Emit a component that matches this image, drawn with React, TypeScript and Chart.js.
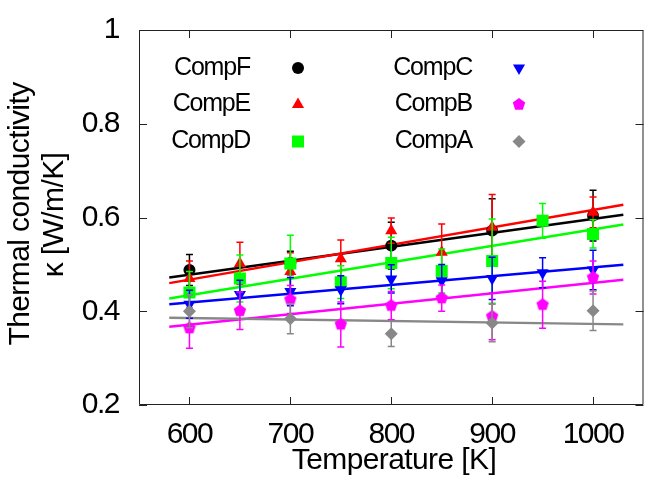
import React, { useEffect, useRef } from 'react';
import { Chart, registerables } from 'chart.js';

Chart.register(...registerables);

// ---- data ----
const xTickValues = [600, 700, 800, 900, 1000];
const yTickValues = [0.2, 0.4, 0.6, 0.8, 1];

const tempsF = [600, 700, 800, 900, 1000];
const compF = [0.488, 0.503, 0.540, 0.572, 0.604];
const errF = [0.033, 0.025, 0.05, 0.068, 0.054];

const tempsE = [600, 650, 700, 750, 800, 850, 900, 1000];
const compE = [0.470, 0.502, 0.485, 0.512, 0.572, 0.526, 0.579, 0.611];
const errE = [0.037, 0.045, 0.04, 0.04, 0.027, 0.06, 0.07, 0.033];

const tempsD = [600, 650, 700, 750, 800, 850, 900, 950, 1000];
const compD = [0.440, 0.470, 0.502, 0.462, 0.503, 0.486, 0.507, 0.593, 0.565];
const errD = [0.045, 0.05, 0.06, 0.035, 0.055, 0.047, 0.09, 0.037, 0.03];

const tempsC = [600, 650, 700, 750, 800, 850, 900, 950, 1000];
const compC = [0.415, 0.436, 0.442, 0.446, 0.469, 0.465, 0.470, 0.482, 0.488];
const errC = [0.03, 0.03, 0.03, 0.03, 0.03, 0.035, 0.045, 0.032, 0.042];

const tempsB = [600, 650, 700, 750, 800, 850, 900, 950, 1000];
const compB = [0.364, 0.401, 0.425, 0.372, 0.412, 0.428, 0.389, 0.414, 0.472];
const errB = [0.043, 0.04, 0.03, 0.048, 0.03, 0.028, 0.05, 0.05, 0.035];

const tempsA = [600, 700, 800, 900, 1000];
const compA = [0.400, 0.384, 0.352, 0.375, 0.401];
const errA = [0.035, 0.032, 0.027, 0.04, 0.042];

const fitX = [580, 1030];
const fitF = [0.472, 0.606];
const fitE = [0.460, 0.627];
const fitD = [0.427, 0.585];
const fitC = [0.415, 0.499];
const fitB = [0.367, 0.467];
const fitA = [0.386, 0.372];

const legendLabels = ['CompF', 'CompE', 'CompD', 'CompC', 'CompB', 'CompA'];

// ---- styling ----
const FONT = '"Liberation Sans", Arial, sans-serif';

type Shape = 'circle' | 'triangle' | 'rect' | 'triangleDown' | 'pentagon' | 'diamond';

function drawMarker(ctx: CanvasRenderingContext2D, shape: Shape, x: number, y: number, color: string) {
  ctx.save();
  ctx.fillStyle = color;
  ctx.beginPath();
  if (shape === 'circle') {
    ctx.arc(x, y, 6, 0, Math.PI * 2);
  } else if (shape === 'triangle' || shape === 'triangleDown') {
    const r = 7;
    const s = shape === 'triangle' ? 1 : -1;
    for (let k = 0; k < 3; k++) {
      const a = (k * 2 * Math.PI) / 3;
      const px = x + Math.sin(a) * r;
      const py = y - s * Math.cos(a) * r;
      if (k === 0) ctx.moveTo(px, py);
      else ctx.lineTo(px, py);
    }
    ctx.closePath();
  } else if (shape === 'rect') {
    ctx.rect(x - 6, y - 6, 12, 12);
  } else if (shape === 'pentagon') {
    const r = 6.5;
    for (let k = 0; k < 5; k++) {
      const a = (k * 2 * Math.PI) / 5;
      const px = x + Math.sin(a) * r;
      const py = y - Math.cos(a) * r;
      if (k === 0) ctx.moveTo(px, py);
      else ctx.lineTo(px, py);
    }
    ctx.closePath();
  } else if (shape === 'diamond') {
    const r = 6.5;
    ctx.moveTo(x, y - r);
    ctx.lineTo(x + r, y);
    ctx.lineTo(x, y + r);
    ctx.lineTo(x - r, y);
    ctx.closePath();
  }
  ctx.fill();
  ctx.restore();
}

const errorBarPlugin = {
  id: 'errorBars',
  beforeDatasetDraw(chart: any, args: any) {
    const ds = chart.data.datasets[args.index];
    if (!ds.errors) return;
    const ctx = chart.ctx as CanvasRenderingContext2D;
    const ys = chart.scales.y;
    ctx.save();
    ctx.strokeStyle = ds.backgroundColor;
    ctx.lineWidth = 1.5;
    args.meta.data.forEach((pt: any, i: number) => {
      const v = ds.data[i].y;
      const e = ds.errors[i];
      const x = pt.x;
      const yt = ys.getPixelForValue(v + e);
      const yb = ys.getPixelForValue(v - e);
      ctx.beginPath();
      ctx.moveTo(x, yt);
      ctx.lineTo(x, yb);
      ctx.moveTo(x - 3.5, yt);
      ctx.lineTo(x + 3.5, yt);
      ctx.moveTo(x - 3.5, yb);
      ctx.lineTo(x + 3.5, yb);
      ctx.stroke();
    });
    ctx.restore();
  },
};

const framePlugin = {
  id: 'frame',
  beforeDraw(chart: any) {
    (chart.ctx as any).letterSpacing = '-1.5px';
  },
  beforeDatasetsDraw(chart: any) {
    const ctx = chart.ctx as CanvasRenderingContext2D;
    const { left, right, top, bottom } = chart.chartArea;
    const xs = chart.scales.x;
    const ys = chart.scales.y;
    ctx.save();
    ctx.strokeStyle = '#222';
    ctx.lineWidth = 1;
    ctx.beginPath();
    ctx.moveTo(left + 0.5, top + 0.5);
    ctx.lineTo(right - 0.5, top + 0.5);
    ctx.lineTo(right - 0.5, bottom - 0.5);
    ctx.lineTo(left + 0.5, bottom - 0.5);
    ctx.closePath();
    const tl = 8;
    xs.ticks.forEach((t: any) => {
      const x = Math.round(xs.getPixelForValue(t.value)) + 0.5;
      ctx.moveTo(x, bottom);
      ctx.lineTo(x, bottom - tl);
      ctx.moveTo(x, top);
      ctx.lineTo(x, top + tl);
    });
    ys.ticks.forEach((t: any) => {
      const y = Math.round(ys.getPixelForValue(t.value)) + 0.5;
      ctx.moveTo(left, y);
      ctx.lineTo(left + tl, y);
      ctx.moveTo(right, y);
      ctx.lineTo(right - tl, y);
    });
    ctx.stroke();
    ctx.restore();
  },
};

const shapesInLegendOrder: Shape[] = ['circle', 'triangle', 'rect', 'triangleDown', 'pentagon', 'diamond'];
const colorsInLegendOrder = ['#000000', '#ff0000', '#00ff00', '#0000ff', '#ff00ff', '#888888'];

const textPlugin = {
  id: 'texts',
  afterDraw(chart: any) {
    const ctx = chart.ctx as CanvasRenderingContext2D;
    ctx.save();
    ctx.fillStyle = '#000';
    ctx.textBaseline = 'middle';
    // legend
    (ctx as any).letterSpacing = '-1.2px';
    ctx.font = `25px ${FONT}`;
    ctx.textAlign = 'right';
    const textX = [250, 472];
    const markX = [298, 519];
    const rowY = [68, 104.5, 141.5];
    legendLabels.forEach((lab, i) => {
      const col = Math.floor(i / 3);
      const row = i % 3;
      ctx.fillText(lab, textX[col], rowY[row]);
      drawMarker(ctx, shapesInLegendOrder[i], markX[col], rowY[row], colorsInLegendOrder[i]);
    });
    // axis titles
    (ctx as any).letterSpacing = '-0.6px';
    ctx.font = `30px ${FONT}`;
    ctx.textAlign = 'center';
    ctx.fillText('Temperature [K]', 394, 461);
    ctx.save();
    ctx.translate(21, 214);
    ctx.rotate(-Math.PI / 2);
    ctx.fillText('Thermal conductivity', 0, 0);
    ctx.restore();
    ctx.save();
    ctx.translate(55, 215);
    ctx.rotate(-Math.PI / 2);
    ctx.fillText('κ [W/m/K]', 0, 0);
    ctx.restore();
    ctx.restore();
  },
};

export default function App() {
  const ref = useRef<HTMLCanvasElement>(null);

  useEffect(() => {
    document.body.style.margin = '0';
    document.body.style.overflow = 'hidden';
    const canvas = ref.current!;

    const pent = document.createElement('canvas');
    pent.width = 16;
    pent.height = 16;
    drawMarker(pent.getContext('2d')!, 'pentagon', 8, 8, '#ff00ff');

    const pts = (xs: number[], ys: number[]) => xs.map((x, i) => ({ x, y: ys[i] }));

    const pointSets = [
      { label: 'CompA', xs: tempsA, ys: compA, err: errA, color: '#888888', style: 'rectRot', radius: 6.5, rotation: 0 },
      { label: 'CompB', xs: tempsB, ys: compB, err: errB, color: '#ff00ff', style: pent, radius: 7, rotation: 0 },
      { label: 'CompC', xs: tempsC, ys: compC, err: errC, color: '#0000ff', style: 'triangle', radius: 7, rotation: 180 },
      { label: 'CompD', xs: tempsD, ys: compD, err: errD, color: '#00ff00', style: 'rect', radius: 8.5, rotation: 0 },
      { label: 'CompE', xs: tempsE, ys: compE, err: errE, color: '#ff0000', style: 'triangle', radius: 7, rotation: 0 },
      { label: 'CompF', xs: tempsF, ys: compF, err: errF, color: '#000000', style: 'circle', radius: 6, rotation: 0 },
    ];
    const fitSets = [
      { ys: fitA, color: '#888888' },
      { ys: fitB, color: '#ff00ff' },
      { ys: fitC, color: '#0000ff' },
      { ys: fitD, color: '#00ff00' },
      { ys: fitE, color: '#ff0000' },
      { ys: fitF, color: '#000000' },
    ];

    const datasets: any[] = [
      ...pointSets.map((s) => ({
        label: s.label,
        data: pts(s.xs, s.ys),
        errors: s.err,
        backgroundColor: s.color,
        borderColor: s.color,
        borderWidth: 0,
        pointStyle: s.style,
        pointRadius: s.radius,
        rotation: s.rotation,
        showLine: false,
        order: 0,
      })),
      ...fitSets.map((f) => ({
        label: 'fit',
        data: pts(fitX, f.ys),
        borderColor: f.color,
        backgroundColor: f.color,
        borderWidth: 2.5,
        pointRadius: 0,
        showLine: true,
        order: 1,
      })),
    ];

    const chart = new Chart(canvas, {
      type: 'scatter',
      data: { datasets },
      options: {
        animation: false,
        responsive: false,
        maintainAspectRatio: false,
        layout: { padding: { top: 25, right: 4, left: 0, bottom: 0 } },
        plugins: { legend: { display: false }, tooltip: { enabled: false } },
        font: { family: FONT },
        scales: {
          x: {
            type: 'linear',
            min: 550,
            max: 1050,
            grid: { display: false },
            border: { display: false },
            afterBuildTicks: (s: any) => {
              s.ticks = xTickValues.map((v) => ({ value: v }));
            },
            afterFit: (s: any) => {
              s.height = 72;
            },
            ticks: {
              color: '#000',
              font: { size: 30, family: FONT },
              padding: 4,
              maxRotation: 0,
              autoSkip: false,
              callback: (v: any) => String(v),
            },
          },
          y: {
            type: 'linear',
            min: 0.2,
            max: 1,
            grid: { display: false },
            border: { display: false },
            afterBuildTicks: (s: any) => {
              s.ticks = yTickValues.map((v) => ({ value: v }));
            },
            afterFit: (s: any) => {
              s.width = 139;
            },
            ticks: {
              color: '#000',
              font: { size: 30, family: FONT },
              padding: 12,
              autoSkip: false,
              callback: (v: any) => String(+Number(v).toFixed(1)),
            },
          },
        },
      } as any,
      plugins: [framePlugin, errorBarPlugin, textPlugin],
    });

    return () => chart.destroy();
  }, []);

  return (
    <div style={{ width: 645, height: 477, overflow: 'hidden' }}>
      <canvas ref={ref} width={652} height={477} style={{ display: 'block' }} />
    </div>
  );
}
